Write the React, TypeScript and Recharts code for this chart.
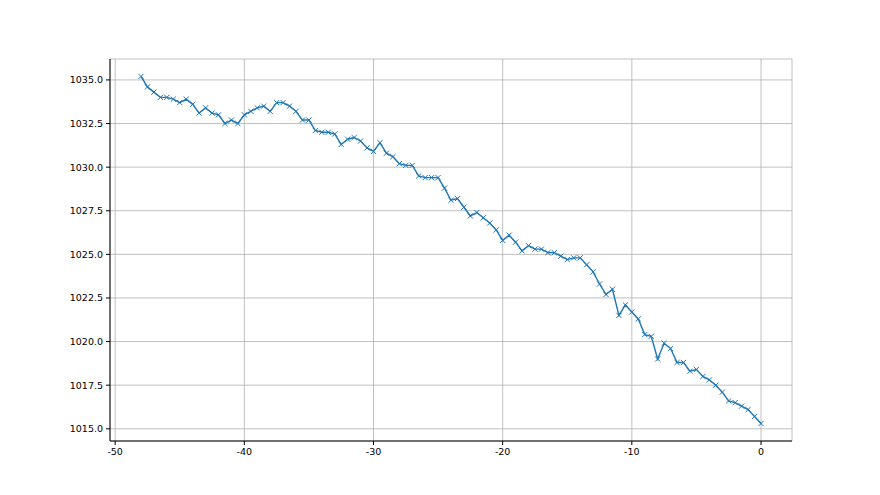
import React from 'react';
import { LineChart, Line, XAxis, YAxis, CartesianGrid } from 'recharts';

// hours relative to now
const hours = [
  -48, -47.5, -47, -46.5, -46, -45.5, -45, -44.5, -44, -43.5, -43, -42.5, -42, -41.5, -41, -40.5,
  -40, -39.5, -39, -38.5, -38, -37.5, -37, -36.5, -36, -35.5, -35, -34.5, -34, -33.5, -33, -32.5,
  -32, -31.5, -31, -30.5, -30, -29.5, -29, -28.5, -28, -27.5, -27, -26.5, -26, -25.5, -25, -24.5,
  -24, -23.5, -23, -22.5, -22, -21.5, -21, -20.5, -20, -19.5, -19, -18.5, -18, -17.5, -17, -16.5,
  -16, -15.5, -15, -14.5, -14, -13.5, -13, -12.5, -12, -11.5, -11, -10.5, -10, -9.5, -9, -8.5,
  -8, -7.5, -7, -6.5, -6, -5.5, -5, -4.5, -4, -3.5, -3, -2.5, -2, -1.5, -1, -0.5, 0,
];

// pressure readings (hPa)
const pressure = [
  1035.2, 1034.6, 1034.3, 1034.0, 1034.0, 1033.9, 1033.7, 1033.9, 1033.6, 1033.1, 1033.4, 1033.1, 1033.0, 1032.5, 1032.7, 1032.5,
  1033.0, 1033.2, 1033.4, 1033.5, 1033.2, 1033.7, 1033.7, 1033.5, 1033.2, 1032.7, 1032.7, 1032.1, 1032.0, 1032.0, 1031.9, 1031.3,
  1031.6, 1031.7, 1031.5, 1031.1, 1030.9, 1031.4, 1030.8, 1030.6, 1030.2, 1030.1, 1030.1, 1029.5, 1029.4, 1029.4, 1029.4, 1028.8,
  1028.1, 1028.2, 1027.7, 1027.2, 1027.4, 1027.1, 1026.8, 1026.4, 1025.8, 1026.1, 1025.7, 1025.2, 1025.5, 1025.3, 1025.3, 1025.1,
  1025.1, 1024.9, 1024.7, 1024.8, 1024.8, 1024.4, 1024.0, 1023.3, 1022.7, 1023.0, 1021.5, 1022.1, 1021.7, 1021.3, 1020.4, 1020.3,
  1019.0, 1019.9, 1019.6, 1018.8, 1018.8, 1018.3, 1018.4, 1018.0, 1017.8, 1017.5, 1017.1, 1016.6, 1016.5, 1016.3, 1016.1, 1015.7, 1015.3,
];

const xTicks = [-50, -40, -30, -20, -10, 0];
const yTicks = [1015, 1017.5, 1020, 1022.5, 1025, 1027.5, 1030, 1032.5, 1035];

const data = hours.map((x, i) => ({ x, p: pressure[i] }));

const BLUE = '#1f77b4';

// matplotlib style 'x' marker
const XMarker = (props: any) => {
  const { cx, cy, index } = props;
  if (cx == null || cy == null) return null;
  const s = 2.6;
  return (
    <path
      key={`m-${index}`}
      d={`M${cx - s},${cy - s}L${cx + s},${cy + s}M${cx - s},${cy + s}L${cx + s},${cy - s}`}
      stroke={BLUE}
      strokeWidth={1}
      fill="none"
    />
  );
};

const tickStyle = { fontSize: 9.5, fill: '#000', fontFamily: 'DejaVu Sans' };

export default function App() {
  return (
    <div style={{ position: 'fixed', left: 0, top: 0, width: 880, height: 495, background: '#fff' }}>
      <LineChart width={880} height={495} data={data} margin={{ top: 59, right: 88, left: 50, bottom: 30 }}>
        <CartesianGrid
          xAxisId="main"
          yAxisId="main"
          stroke="#b0b0b0"
          strokeWidth={0.8}
          verticalPoints={undefined}
        />
        <XAxis
          xAxisId="main"
          type="number"
          dataKey="x"
          domain={[-50.4, 2.4]}
          ticks={xTicks}
          allowDataOverflow
          tick={tickStyle}
          tickSize={4}
          tickMargin={3}
          height={24}
          stroke="#000"
          tickLine={{ stroke: '#000' }}
        />
        <XAxis xAxisId="top" orientation="top" type="number" domain={[-50.4, 2.4]} ticks={xTicks} tick={false} tickLine={false} height={0} stroke="#000" />
        <YAxis
          yAxisId="main"
          type="number"
          domain={[1014.3, 1036.2]}
          ticks={yTicks}
          allowDataOverflow
          tick={tickStyle}
          tickFormatter={(v: number) => v.toFixed(1)}
          tickSize={4}
          tickMargin={3}
          width={60}
          stroke="#000"
          tickLine={{ stroke: '#000' }}
        />
        <YAxis yAxisId="right" orientation="right" type="number" domain={[1014.3, 1036.2]} ticks={yTicks} tick={false} tickLine={false} width={0} stroke="#000" />
        <Line
          xAxisId="main"
          yAxisId="main"
          type="linear"
          dataKey="p"
          stroke={BLUE}
          strokeWidth={1.4}
          dot={XMarker}
          activeDot={false}
          isAnimationActive={false}
        />
      </LineChart>
    </div>
  );
}
